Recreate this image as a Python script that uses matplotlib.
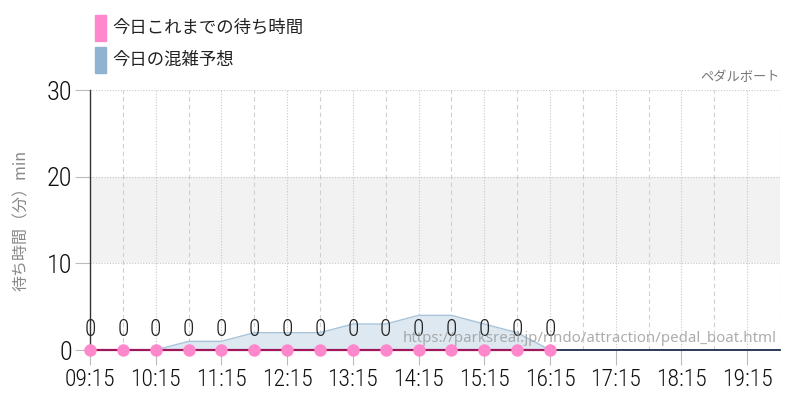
"""Wait-time chart for the pedal boat: today's actual waits and the forecast."""
import matplotlib
matplotlib.use("Agg")
import matplotlib.pyplot as plt
from matplotlib import font_manager

# data ---------------------------------------------------------------
actual_times = ["09:15", "09:45", "10:15", "10:45", "11:15", "11:45", "12:15", "12:45",
                "13:15", "13:45", "14:15", "14:45", "15:15", "15:45", "16:15"]
actual_waits = [0, 0, 0, 0, 0, 0, 0, 0, 0, 0, 0, 0, 0, 0, 0]

forecast_times = ["09:15", "09:45", "10:15", "10:45", "11:15", "11:45", "12:15", "12:45",
                  "13:15", "13:45", "14:15", "14:45", "15:15", "15:45", "16:15", "16:45",
                  "17:15", "17:45", "18:15", "18:45", "19:15", "19:45"]
forecast_waits = [0, 0, 0, 1, 1, 2, 2, 2, 3, 3, 4, 4, 3, 2, 0, 0,
                  0, 0, 0, 0, 0, 0]

hour_labels = ["09:15", "10:15", "11:15", "12:15", "13:15", "14:15",
               "15:15", "16:15", "17:15", "18:15", "19:15"]
half_labels = ["09:45", "10:45", "11:45", "12:45", "13:45", "14:45",
               "15:45", "16:45", "17:45", "18:45", "19:45"]
y_ticks = [0, 10, 20, 30]
busy_band = (10, 20)

attraction = "ペダルボート"
legend_actual = "今日これまでの待ち時間"
legend_forecast = "今日の混雑予想"
y_label = "待ち時間（分）min"
source_url = "https://parksreal.jp/rindo/attraction/pedal_boat.html"

START = "09:15"


def to_min(hhmm):
    h, m = hhmm.split(":")
    return int(h) * 60 + int(m)


def rel(times):
    return [to_min(t) - to_min(START) for t in times]


names = {f.name for f in font_manager.fontManager.ttflist}
if "Roboto Condensed" in names:
    num_font = dict(family="Roboto Condensed", weight="light")
elif "Liberation Sans Narrow" in names:
    num_font = dict(family="Liberation Sans Narrow")
else:
    num_font = dict(family="DejaVu Sans", stretch="condensed")
jp = ["Noto Sans CJK JP", "DejaVu Sans"]
plt.rcParams["font.family"] = jp

fig = plt.figure(figsize=(8, 4), dpi=100)
ax = fig.add_axes([90 / 800, 50 / 400, 690 / 800, 260 / 400])

ax.set_xlim(0, to_min("19:45") - to_min(START))
ax.set_ylim(0, 30)

# busy band and grid
ax.axhspan(*busy_band, color="#f2f2f2", zorder=0, lw=0)
for y in y_ticks[1:]:
    ax.axhline(y, color="#c8c8c8", lw=0.8, ls=(0, (1, 1.5)), zorder=1)
for x in rel(hour_labels)[1:]:
    ax.axvline(x, color="#c8c8c8", lw=0.8, ls=(0, (1, 1.5)), zorder=1)
for x in rel(half_labels):
    ax.axvline(x, color="#d0d0d0", lw=0.8, ls=(0, (4, 3)), zorder=1)

# forecast area
fx = rel(forecast_times)
ax.fill_between(fx, forecast_waits, 0, color="#dde8f1", lw=0, zorder=2)
ax.plot(fx, forecast_waits, color="#a9c4da", lw=1, zorder=3)

# actual waits
ax_x = rel(actual_times)
ax.plot(ax_x, actual_waits, color="#a0185c", lw=1.6, zorder=5, clip_on=False)
ax.plot(ax_x, actual_waits, "o", color="#ff88cc", ms=9, mec="none",
        zorder=6, clip_on=False)
for x, v in zip(ax_x, actual_waits):
    ax.annotate(f"{v}", (x, v), xytext=(0, 15), textcoords="offset points",
                ha="center", va="center", fontsize=17, color="#222222",
                zorder=7, **num_font)

# axes styling
for side in ("top", "right"):
    ax.spines[side].set_visible(False)
ax.spines["left"].set_color("#333333")
ax.spines["left"].set_linewidth(1)
ax.spines["bottom"].set_color("#1f2d4d")
ax.spines["bottom"].set_linewidth(1.3)
ax.spines["bottom"].set_zorder(4)

ax.set_yticks(y_ticks)
ax.set_yticklabels([str(v) for v in y_ticks], fontsize=19, color="#111111", **num_font)
ax.set_xticks(rel(hour_labels))
ax.set_xticklabels(hour_labels, fontsize=17, color="#111111", **num_font)
ax.tick_params(axis="y", length=11, width=0.8, color="#bbbbbb", pad=2)
ax.tick_params(axis="x", length=11, width=0.8, color="#bbbbbb", pad=2)

ax.set_ylabel(y_label, fontsize=11.5, color="#888888", labelpad=12)

# labels around the plot
fig.text(780 / 800, 1 - 78 / 400, attraction, ha="right", va="center",
         fontsize=9.5, color="#777777")
ax.text(0.995, 12 / 260, source_url, transform=ax.transAxes, ha="right",
        va="center", fontsize=10.8, color="#999999", alpha=0.8, zorder=8,
        family=["Noto Sans", "DejaVu Sans"])

# legend as colored blocks
for i, (label, color) in enumerate([(legend_actual, "#ff88cc"),
                                    (legend_forecast, "#8fb3d0")]):
    yc = 28 + i * 32
    fig.patches.append(plt.Rectangle((95 / 800, 1 - (yc + 13) / 400), 11 / 800, 26 / 400,
                                     transform=fig.transFigure, color=color))
    fig.text(112 / 800, 1 - yc / 400, label, ha="left", va="center",
             fontsize=12.5, color="#222222")

fig.savefig("out.png", dpi=100)
